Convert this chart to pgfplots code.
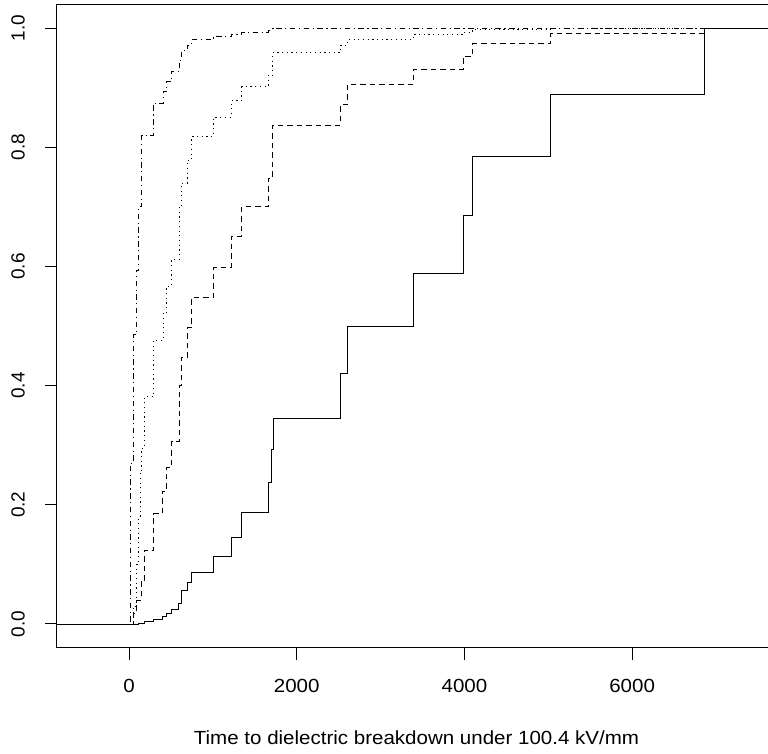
\documentclass[border=0pt]{standalone}
\usepackage{pgfplots}
\pgfplotsset{compat=1.18}
\usepackage{fontspec}
\setmainfont{Liberation Sans}
\newcommand{\lblfont}{\fontsize{19}{19}\selectfont}
\begin{document}
\begin{tikzpicture}[x=1pt,y=1pt]
\path[use as bounding box, clip] (0,0) rectangle (768,754);
\begin{axis}[
  at={(57pt,106.2pt)}, anchor=south west,
  scale only axis, width=719pt, height=643.6pt,
  xmin=-859, xmax=7716, ymin=-0.04, ymax=1.04,
  axis x line*=bottom, axis y line*=left,
  axis line style={-, line width=1pt, black},
  xtick={0,2000,4000,6000},
  ytick={0,0.2,0.4,0.6,0.8,1.0},
  tick align=outside, major tick length=12pt,
  tick style={black, line width=1pt},
  /pgf/number format/assume math mode=true,
  /pgf/number format/1000 sep={},
  yticklabel={\pgfmathprintnumber[fixed,fixed zerofill,precision=1]{\tick}},
  xticklabel style={font=\lblfont, anchor=center, yshift=-26pt, xscale=1.08},
  yticklabel style={font=\lblfont, rotate=90, anchor=center, yshift=27pt},
  xlabel={Time to dielectric breakdown under 100.4 kV/mm},
  xlabel style={font=\lblfont, at={(axis description cs:0.5,0)}, anchor=center, yshift=-89.8pt, xscale=1.08},
  clip=true,
]
% solid
\addplot[const plot, black, line width=0.9pt] coordinates {
(-1000,0) (111,0.001) (182,0.004) (290,0.007) (400,0.012) (449,0.017) (508,0.024)
(588,0.035) (628,0.057) (695,0.069) (747,0.086) (1005,0.113) (1216,0.146) (1343,0.187)
(1661,0.238) (1700,0.292) (1721,0.345) (2524,0.421) (2610,0.499) (3391,0.588)
(3990,0.686) (4100,0.784) (5029,0.888) (6857,1.0) (8000,1.0)};
% dashed
\addplot[const plot, black, line width=0.9pt, dash pattern=on 5.5pt off 4pt] coordinates {
(-1000,0) (52,0.018) (91,0.040) (143,0.071) (182,0.123) (295,0.185) (400,0.222)
(449,0.262) (508,0.306) (600,0.400) (628,0.447) (695,0.497) (747,0.548) (1005,0.598)
(1216,0.650) (1343,0.700) (1661,0.748) (1713,0.837) (2524,0.872) (2607,0.906)
(3391,0.931) (3990,0.953) (4100,0.974) (5029,0.991) (6857,1.0) (8000,1.0)};
% dotted
\addplot[const plot, black, line width=0.9pt, dash pattern=on 1.2pt off 3.5pt] coordinates {
(-1000,0) (52,0.03) (91,0.10) (111,0.18) (131,0.258) (151,0.295) (182,0.381)
(290,0.4765) (409,0.523) (449,0.567) (508,0.612) (600,0.70) (628,0.740) (695,0.7785)
(747,0.8177) (1005,0.850) (1216,0.878) (1343,0.9016) (1661,0.921) (1713,0.959)
(2524,0.9715) (2607,0.981) (3391,0.9894) (3990,0.993) (4100,0.9978) (5029,0.999)
(6857,1.0) (8000,1.0)};
% dot-dash
\addplot[const plot, black, line width=0.9pt, dash pattern=on 1.2pt off 3.5pt on 5.5pt off 3.5pt] coordinates {
(-1000,0) (12,0.27) (52,0.485) (91,0.594) (111,0.70) (151,0.820) (290,0.874)
(409,0.893) (449,0.91) (508,0.927) (600,0.946) (628,0.963) (695,0.9715) (747,0.98)
(1005,0.9855) (1216,0.9894) (1343,0.993) (1661,0.9966) (1713,0.9995) (6857,1.0) (8000,1.0)};
\draw[black, line width=1pt] (rel axis cs:0,1) -- (rel axis cs:1,1);
\end{axis}
\end{tikzpicture}
\end{document}
